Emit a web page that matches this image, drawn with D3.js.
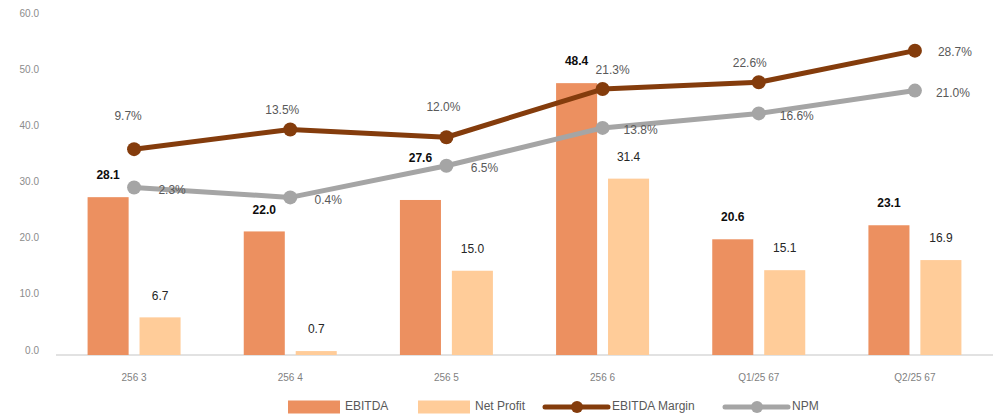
<!DOCTYPE html>
<meta charset="utf-8">
<style>
body { margin: 0; background: #fff; }
text { font-family: Arial, "Liberation Sans", sans-serif; }
</style>
<body>
<script src="https://cdn.jsdelivr.net/npm/d3@7"></script>
<div id="content"></div>
<script>
var width = 1002,
    height = 419;

// data
var categories = ["256 3", "256 4", "256 5", "256 6", "Q1/25 67", "Q2/25 67"];
var ebitda = [28.1, 22.0, 27.6, 48.4, 20.6, 23.1];
var netProfit = [6.7, 0.7, 15.0, 31.4, 15.1, 16.9];
var ebitdaMargin = [9.7, 13.5, 12.0, 21.3, 22.6, 28.7];
var npm = [2.3, 0.4, 6.5, 13.8, 16.6, 21.0];
var yTicks = [0, 10, 20, 30, 40, 50, 60];

var colors = {
  ebitda: "#ec9060",
  np: "#ffcc99",
  margin: "#843c0c",
  npm: "#a5a5a5"
};

var svg = d3.select("#content").append("svg")
    .attr("width", width)
    .attr("height", height);

var x = d3.scaleBand().domain(categories).range([56, 993]);
var inner = d3.scaleBand().domain(["EBITDA", "Net Profit"])
    .range([-46.5, 46.5]).paddingInner(0.21);
var y = d3.scaleLinear().domain([0, 60]).range([355, 18]);
var y2 = d3.scaleLinear().domain([-30, 35]).range([355, 18]);
var cx = function(i){ return x(categories[i]) + x.bandwidth() / 2; };

// y axis labels (no line)
svg.selectAll(".ytick")
  .data(yTicks)
  .enter().append("text")
  .attr("class", "ytick")
  .attr("x", 39)
  .attr("y", function(d){ return y(d) - 4; })
  .attr("text-anchor", "end")
  .attr("dominant-baseline", "middle")
  .style("font-size", "10px")
  .style("fill", "#8c8c8c")
  .text(function(d){ return d.toFixed(1); });

// baseline
svg.append("line")
  .attr("x1", 56).attr("x2", 993)
  .attr("y1", y(0)).attr("y2", y(0))
  .style("stroke", "#d9d9d9")
  .style("stroke-width", 1.5);

// x labels
svg.selectAll(".xtick")
  .data(categories)
  .enter().append("text")
  .attr("class", "xtick")
  .attr("x", function(d, i){ return cx(i); })
  .attr("y", 378)
  .attr("text-anchor", "middle")
  .attr("dominant-baseline", "middle")
  .style("font-size", "10px")
  .style("fill", "#7f7f7f")
  .text(function(d){ return d; });

// bars
svg.selectAll(".bar-ebitda")
  .data(ebitda)
  .enter().append("rect")
  .attr("class", "bar-ebitda")
  .attr("x", function(d, i){ return cx(i) + inner("EBITDA"); })
  .attr("y", function(d){ return y(d); })
  .attr("width", inner.bandwidth())
  .attr("height", function(d){ return y(0) - y(d); })
  .style("fill", colors.ebitda);

svg.selectAll(".bar-np")
  .data(netProfit)
  .enter().append("rect")
  .attr("class", "bar-np")
  .attr("x", function(d, i){ return cx(i) + inner("Net Profit"); })
  .attr("y", function(d){ return y(d); })
  .attr("width", inner.bandwidth())
  .attr("height", function(d){ return y(0) - y(d); })
  .style("fill", colors.np);

// lines
var drawLine = function(values, color, cls) {
  var line = d3.line()
    .x(function(d, i){ return cx(i); })
    .y(function(d){ return y2(d); });
  svg.append("path")
    .datum(values)
    .attr("d", line)
    .style("fill", "none")
    .style("stroke", color)
    .style("stroke-width", 5)
    .style("stroke-linejoin", "round");
  svg.selectAll("." + cls)
    .data(values)
    .enter().append("circle")
    .attr("class", cls)
    .attr("cx", function(d, i){ return cx(i); })
    .attr("cy", function(d){ return y2(d); })
    .attr("r", 7)
    .style("fill", color);
};
drawLine(npm, colors.npm, "dot-npm");
drawLine(ebitdaMargin, colors.margin, "dot-margin");

// bar labels
var ebitdaNudge = [0, 0, -20, 0, 0, 0];
svg.selectAll(".lbl-ebitda")
  .data(ebitda)
  .enter().append("text")
  .attr("class", "lbl-ebitda")
  .attr("x", function(d, i){ return cx(i) + inner("EBITDA") + inner.bandwidth() / 2; })
  .attr("y", function(d, i){ return y(d) - 21 + ebitdaNudge[i]; })
  .attr("text-anchor", "middle")
  .attr("dominant-baseline", "middle")
  .style("font-size", "12px")
  .style("font-weight", "bold")
  .style("fill", "#0d0d0d")
  .text(function(d){ return d.toFixed(1); });

svg.selectAll(".lbl-np")
  .data(netProfit)
  .enter().append("text")
  .attr("class", "lbl-np")
  .attr("x", function(d, i){ return cx(i) + inner("Net Profit") + inner.bandwidth() / 2; })
  .attr("y", function(d){ return y(d) - 21; })
  .attr("text-anchor", "middle")
  .attr("dominant-baseline", "middle")
  .style("font-size", "12px")
  .style("fill", "#262626")
  .text(function(d){ return d.toFixed(1); });

// percent labels
var marginOffset = [[-6, -32], [-8, -19], [-3, -29], [10, -18], [-9, -18], [40, 2]];
svg.selectAll(".lbl-margin")
  .data(ebitdaMargin)
  .enter().append("text")
  .attr("class", "lbl-margin")
  .attr("x", function(d, i){ return cx(i) + marginOffset[i][0]; })
  .attr("y", function(d, i){ return y2(d) + marginOffset[i][1]; })
  .attr("text-anchor", "middle")
  .attr("dominant-baseline", "middle")
  .style("font-size", "12px")
  .style("fill", "#595959")
  .text(function(d){ return d.toFixed(1) + "%"; });

svg.selectAll(".lbl-npm")
  .data(npm)
  .enter().append("text")
  .attr("class", "lbl-npm")
  .attr("x", function(d, i){ return cx(i) + 38; })
  .attr("y", function(d){ return y2(d) + 3; })
  .attr("text-anchor", "middle")
  .attr("dominant-baseline", "middle")
  .style("font-size", "12px")
  .style("fill", "#595959")
  .text(function(d){ return d.toFixed(1) + "%"; });

// legend
var legend = svg.append("g").attr("transform", "translate(0,407)");
var legendItems = [
  {name: "EBITDA", type: "rect", color: colors.ebitda, x: 288},
  {name: "Net Profit", type: "rect", color: colors.np, x: 418},
  {name: "EBITDA Margin", type: "line", color: colors.margin, x: 545},
  {name: "NPM", type: "line", color: colors.npm, x: 725}
];
legendItems.forEach(function(d){
  if (d.type === "rect") {
    legend.append("rect")
      .attr("x", d.x).attr("y", -6.5)
      .attr("width", 52).attr("height", 13)
      .style("fill", d.color);
    legend.append("text")
      .attr("x", d.x + 57).attr("y", 0)
      .attr("dominant-baseline", "middle")
      .style("font-size", "12px")
      .style("fill", "#595959")
      .text(d.name);
  } else {
    legend.append("line")
      .attr("x1", d.x).attr("x2", d.x + 63)
      .attr("y1", 0).attr("y2", 0)
      .style("stroke", d.color)
      .style("stroke-width", 5)
      .style("stroke-linecap", "round");
    legend.append("circle")
      .attr("cx", d.x + 32).attr("cy", 0)
      .attr("r", 6)
      .style("fill", d.color);
    legend.append("text")
      .attr("x", d.x + 67).attr("y", 0)
      .attr("dominant-baseline", "middle")
      .style("font-size", "12px")
      .style("fill", "#595959")
      .text(d.name);
  }
});
</script>
</body>
